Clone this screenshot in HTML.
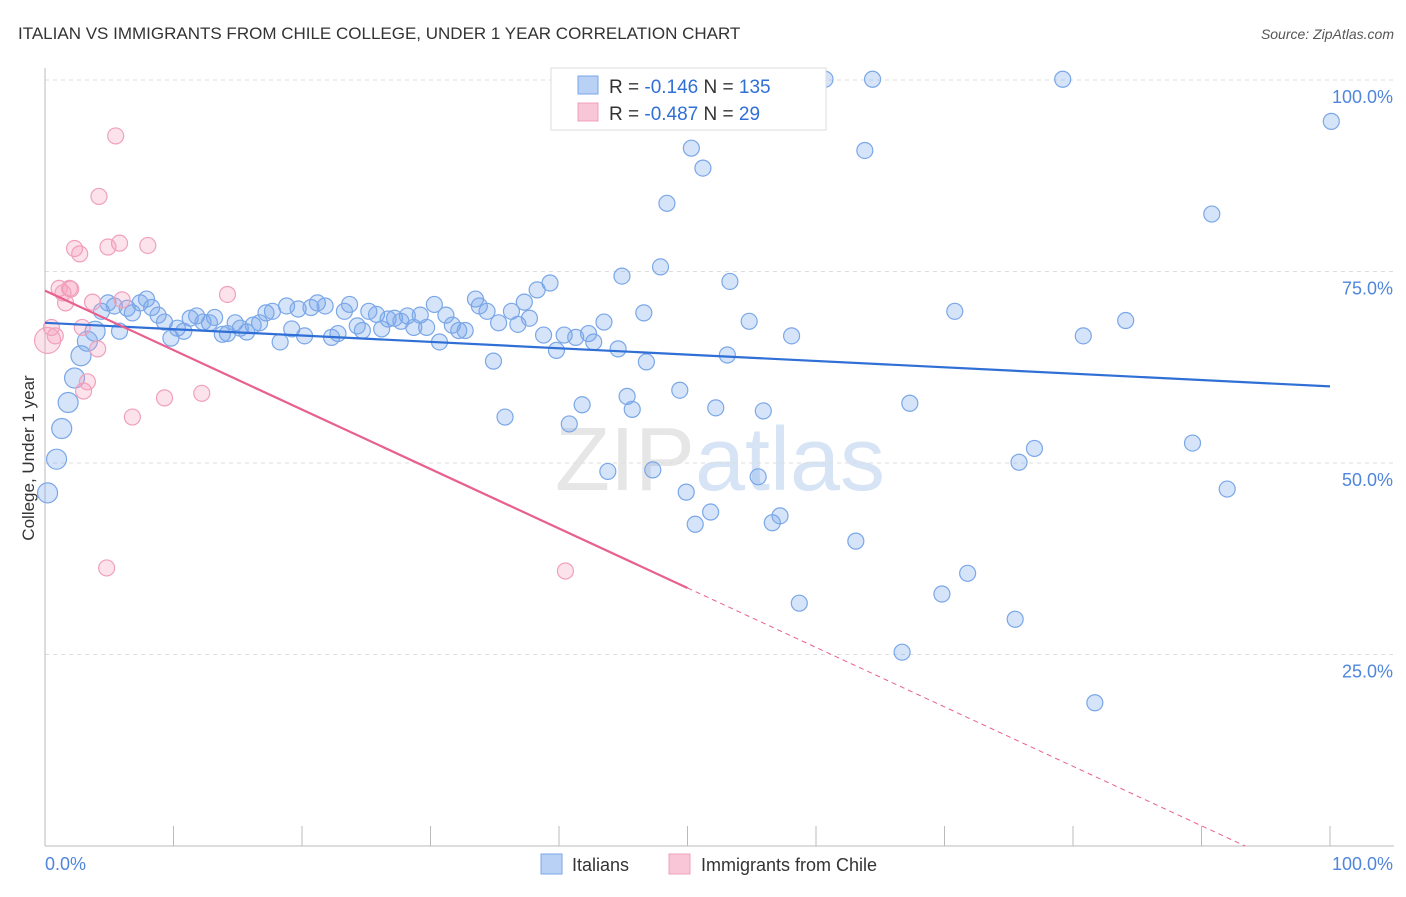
<!DOCTYPE html>
<html><head><meta charset="utf-8"><style>
body{margin:0;background:#fff;font-family:"Liberation Sans",sans-serif;}
svg text{font-family:"Liberation Sans",sans-serif;}
</style></head><body>
<svg id="chart" width="1406" height="892">
<text x="18" y="39" font-size="17" fill="#333">ITALIAN VS IMMIGRANTS FROM CHILE COLLEGE, UNDER 1 YEAR CORRELATION CHART</text>
<text x="1394" y="39" font-size="14" fill="#555" text-anchor="end" font-style="italic">Source: ZipAtlas.com</text>
<text x="720" y="490" font-size="90" fill="#e6e6e6" text-anchor="middle" font-family="Liberation Serif">ZIP<tspan fill="#d6e4f5" font-family="Liberation Sans">atlas</tspan></text>
<g id="grid"></g>
<g id="pts"></g>
<g id="trend"></g>
<text transform="translate(34,458) rotate(-90)" font-size="17" fill="#333" text-anchor="middle">College, Under 1 year</text>
<g>
<rect x="551" y="68" width="275" height="62" fill="#fff" stroke="#ddd"/>
<rect x="578" y="76" width="20" height="18" fill="#b8d1f5" stroke="#7aa7e8"/>
<rect x="578" y="103" width="20" height="18" fill="#f8c6d6" stroke="#f0a0bc"/>
<text x="609" y="93" font-size="19" fill="#333">R = <tspan fill="#2f6fd6">-0.146</tspan>   N = <tspan fill="#2f6fd6">135</tspan></text>
<text x="609" y="120" font-size="19" fill="#333">R = <tspan fill="#2f6fd6">-0.487</tspan>   N = <tspan fill="#2f6fd6">  29</tspan></text>
</g>
<g>
<rect x="541" y="854" width="21" height="20" fill="#b8d1f5" stroke="#7aa7e8"/>
<text x="572" y="871" font-size="18" fill="#333">Italians</text>
<rect x="669" y="854" width="21" height="20" fill="#f8c6d6" stroke="#f0a0bc"/>
<text x="701" y="871" font-size="18" fill="#333">Immigrants from Chile</text>
</g>
</svg>
<script>
const blueX=[0.2,0.9,1.3,1.8,2.3,2.8,3.3,3.9,4.4,4.9,5.4,5.8,6.4,6.8,7.4,7.9,8.3,8.8,9.3,9.8,10.3,10.8,11.3,11.8,12.3,12.8,13.2,13.8,14.2,14.8,15.2,15.7,16.2,16.7,17.2,17.7,18.3,18.8,19.2,19.7,20.2,20.7,21.2,21.8,22.3,22.8,23.3,23.7,24.3,24.7,25.2,25.8,26.2,26.7,27.2,27.7,28.2,28.7,29.2,29.7,30.3,30.7,31.2,31.7,32.2,32.7,33.5,33.8,34.4,34.9,35.3,35.8,36.3,36.8,37.3,37.7,38.3,38.8,39.3,39.8,40.4,40.8,41.3,41.8,42.3,42.7,43.5,43.8,44.6,44.9,45.3,45.7,46.6,46.8,47.3,47.9,48.4,49.4,49.9,50.3,50.6,51.2,51.8,52.2,52.7,53.1,53.3,54.5,54.8,55.5,55.9,56.6,57.2,58.1,58.7,60.7,63.1,63.8,64.4,66.7,67.3,69.8,70.8,71.8,75.5,75.8,77.0,79.2,80.8,81.7,84.1,89.3,90.8,92.0,100.1];
const blueY=[46.1,50.5,54.5,57.9,61.1,64.0,65.9,67.2,69.8,70.9,70.5,67.2,70.2,69.6,70.9,71.4,70.3,69.3,68.4,66.3,67.6,67.2,68.9,69.2,68.4,68.3,69.0,66.8,66.9,68.3,67.6,67.1,68.0,68.3,69.6,69.8,65.8,70.5,67.5,70.1,66.6,70.3,70.9,70.5,66.4,66.9,69.8,70.7,67.9,67.3,69.8,69.4,67.5,68.8,68.9,68.5,69.2,67.7,69.3,67.7,70.7,65.8,69.3,68.0,67.3,67.3,71.4,70.5,69.8,63.3,68.3,56.0,69.8,68.1,71.0,68.9,72.6,66.7,73.5,64.7,66.7,55.1,66.4,57.6,66.9,65.8,68.4,48.9,64.9,74.4,58.7,57.0,69.6,63.2,49.1,75.6,83.9,59.5,46.2,91.1,42.0,88.5,43.6,57.2,99.4,64.1,73.7,97.5,68.5,48.2,56.8,42.2,43.1,66.6,31.7,100.1,39.8,90.8,100.1,25.3,57.8,32.9,69.8,35.6,29.6,50.1,51.9,100.1,66.6,18.7,68.6,52.6,82.5,46.6,94.6];
const pinkX=[0.2,0.5,0.8,1.1,1.4,1.6,1.9,2.0,2.3,2.7,2.9,3.0,3.3,3.7,4.1,4.2,4.9,5.5,5.8,6.0,6.8,8.0,9.3,12.2,14.2,4.8,40.5];
const pinkY=[66.0,67.7,66.6,72.8,72.2,70.9,72.8,72.7,78.0,77.3,67.7,59.4,60.6,71.0,64.9,84.8,78.2,92.7,78.7,71.3,56.0,78.4,58.5,59.1,72.0,36.3,35.9];
const blueTrend=[68.3,60.0];
const pinkTrend=[72.5,0];
const pinkSolidEnd=50;
const yTicks=[25,50,75,100];
const xTicks=[0,10,20,30,40,50,60,70,80,90,100];
const NS="http://www.w3.org/2000/svg";
const X=v=>45+v*12.85, Y=v=>846-v*7.66;
function mk(tag,attrs,parent){const e=document.createElementNS(NS,tag);for(const k in attrs)e.setAttribute(k,attrs[k]);parent.appendChild(e);return e;}
const grid=document.getElementById('grid');
yTicks.forEach(t=>{
 const l=mk('line',{x1:45,x2:1394,y1:Y(t),y2:Y(t),stroke:'#ddd','stroke-dasharray':'4,4'},grid);
 
 
 const tx=mk('text',{x:1393,y:Y(t)+23,'font-size':18,fill:'#4f86dc','text-anchor':'end'},grid);
 tx.textContent=t.toFixed(1)+'%';
 
 
});
const ax=mk('line',{x1:45,x2:1394,y1:846,y2:846,stroke:'#bbb'},grid);


const ay=mk('line',{x1:45,x2:45,y1:68,y2:846,stroke:'#bbb'},grid);


xTicks.forEach(t=>{
 const l=mk('line',{x1:X(t),x2:X(t),y1:826,y2:846,stroke:'#bbb'},grid);
 
 
});
const xl0=mk('text',{x:45,y:870,'font-size':18,fill:'#4f86dc'},grid);xl0.textContent='0.0%';


const xl1=mk('text',{x:1393,y:870,'font-size':18,fill:'#4f86dc','text-anchor':'end'},grid);xl1.textContent='100.0%';


const pts=document.getElementById('pts');
blueX.forEach((x,i)=>{
 const c=mk('circle',{cx:X(x),cy:Y(blueY[i]),r:x<4?10:8,fill:'rgba(120,165,235,0.3)',stroke:'#7aa7e8','stroke-width':1.2},pts);
 
 
});
pinkX.forEach((x,i)=>{
 const c=mk('circle',{cx:X(x),cy:Y(pinkY[i]),r:i==0?13:8,fill:'rgba(245,160,190,0.3)',stroke:'#f0a0bc','stroke-width':1.2},pts);
 
 
});
const tr=document.getElementById('trend');
const bl=mk('line',{x1:X(0),y1:Y(blueTrend[0]),x2:X(100),y2:Y(blueTrend[1]),stroke:'#2f6fd6','stroke-width':2.2},tr);


const pAt=x=>pinkTrend[0]+(pinkTrend[1]-pinkTrend[0])*x/93.4;
const pl=mk('line',{x1:X(0),y1:Y(pAt(0)),x2:X(pinkSolidEnd),y2:Y(pAt(pinkSolidEnd)),stroke:'#e8608d','stroke-width':2.2},tr);


const pd=mk('line',{x1:X(pinkSolidEnd),y1:Y(pAt(pinkSolidEnd)),x2:X(93.4),y2:Y(pAt(93.4)),stroke:'#e8608d','stroke-width':1,'stroke-dasharray':'5,4'},tr);


</script>
</body></html>
